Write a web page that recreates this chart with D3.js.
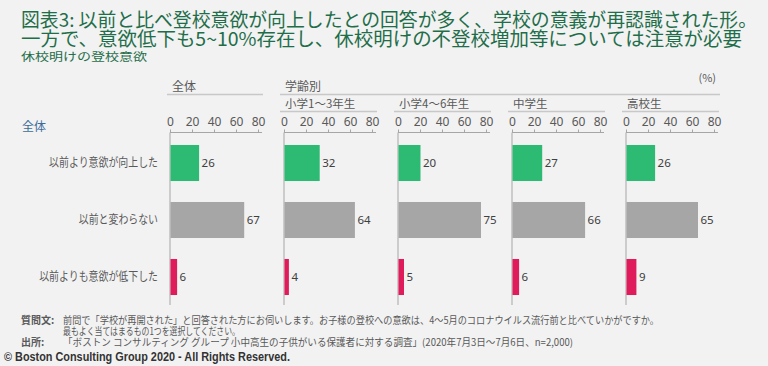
<!DOCTYPE html>
<html>
<head>
<meta charset="utf-8">
<script src="https://cdn.jsdelivr.net/npm/d3@7"></script>
<style>
  body { margin: 0; background: #f2f2f2; }
  svg { display: block; font-family: "Noto Sans CJK JP", "Noto Sans", sans-serif; }
</style>
</head>
<body>
<svg id="chart" width="768" height="366"></svg>
<script>
// data
const panels = ["全体", "小学1～3年生", "小学4～6年生", "中学生", "高校生"];
const categories = ["以前より意欲が向上した", "以前と変わらない", "以前よりも意欲が低下した"];
const upValues = [26, 32, 20, 27, 26];
const sameValues = [67, 64, 75, 66, 65];
const downValues = [6, 4, 5, 6, 9];
const ticks = [0, 20, 40, 60, 80];
const colors = ["#2dba73", "#a6a6a6", "#e01b5b"];

const svg = d3.select("#chart");
svg.append("rect").attr("width", 768).attr("height", 366).attr("fill", "#f2f2f2");

// title
const title = svg.append("g").attr("fill", "#1f6e4a");
title.append("text").attr("x", 21).attr("y", 27).attr("font-size", 19)
  .attr("textLength", 736).attr("lengthAdjust", "spacingAndGlyphs")
  .text("図表3: 以前と比べ登校意欲が向上したとの回答が多く、学校の意義が再認識された形。");
title.append("text").attr("x", 21).attr("y", 45.5).attr("font-size", 19)
  .attr("textLength", 721).attr("lengthAdjust", "spacingAndGlyphs")
  .text("一方で、意欲低下も5~10%存在し、休校明けの不登校増加等については注意が必要");
title.append("text").attr("x", 21).attr("y", 60.5).attr("font-size", 11.5)
  .attr("textLength", 126).attr("lengthAdjust", "spacingAndGlyphs")
  .text("休校明けの登校意欲");

const px = d3.scaleBand().domain(panels).range([170, 740]);
const x = d3.scaleLinear().domain([0, 80]).range([0, 88]);
const y = d3.scaleBand().domain(categories).range([134.5, 305.5]).paddingInner(0.368).paddingOuter(0.184);
const axisY = 132.5;
const series = [upValues, sameValues, downValues];

// headers
const hdr = svg.append("g").attr("font-size", 12).attr("fill", "#595959");
hdr.append("text").attr("x", 172).attr("y", 91).text("全体");
hdr.append("line").attr("x1", 167).attr("x2", 263).attr("y1", 94.5).attr("y2", 94.5)
  .attr("stroke", "#c8c8c8").attr("stroke-width", 1.5);
hdr.append("text").attr("x", 285).attr("y", 91).text("学齢別");
hdr.append("line").attr("x1", 280).attr("x2", 720).attr("y1", 94.5).attr("y2", 94.5)
  .attr("stroke", "#c8c8c8").attr("stroke-width", 1.5);
hdr.append("text").attr("x", 716).attr("y", 82).attr("text-anchor", "end").attr("font-size", 11).text("(%)");
hdr.append("text").attr("x", 22).attr("y", 131).attr("fill", "#3d6c99").text("全体");

panels.forEach((p, i) => {
  const g = svg.append("g").attr("transform", `translate(${px(p)},0)`);
  if (i > 0) {
    g.append("text").attr("x", 1).attr("y", 108).attr("font-size", 11.5).attr("fill", "#595959").text(p);
    g.append("line").attr("x1", -4).attr("x2", 93).attr("y1", 111.5).attr("y2", 111.5)
      .attr("stroke", "#c8c8c8").attr("stroke-width", 1.5);
  }
  const ax = g.append("g").attr("transform", `translate(0,${axisY})`)
    .call(d3.axisTop(x).tickValues(ticks).tickSize(3).tickPadding(4));
  ax.select(".domain").remove();
  ax.selectAll(".tick line").attr("stroke", "#a6a6a6");
  ax.selectAll(".tick text").attr("fill", "#595959").attr("font-size", 12)
    .attr("font-family", "'Noto Sans', sans-serif");
  ax.append("line").attr("x1", 0).attr("x2", 92).attr("stroke", "#a6a6a6");

  g.append("line").attr("x1", 0).attr("x2", 0).attr("y1", axisY).attr("y2", 305)
    .attr("stroke", "#a6a6a6");

  categories.forEach((c, k) => {
    const v = series[k][i];
    g.append("rect").attr("x", 0.5).attr("y", y(c)).attr("width", x(v)).attr("height", y.bandwidth())
      .attr("fill", colors[k]);
    g.append("text").attr("x", x(v) + 3).attr("y", y(c) + y.bandwidth() / 2 + 4)
      .attr("font-size", 11.5).attr("fill", "#404040").attr("font-family", "'Noto Sans', sans-serif")
      .text(v);
  });
});

// category labels
svg.append("g").selectAll("text").data(categories).join("text")
  .attr("x", 158).attr("y", d => y(d) + y.bandwidth() / 2 + 4)
  .attr("text-anchor", "end").attr("font-size", 12).attr("fill", "#595959")
  .attr("textLength", d => d.length * 9.9).attr("lengthAdjust", "spacingAndGlyphs")
  .text(d => d);

// footer
const ft = svg.append("g").attr("font-size", 10).attr("fill", "#595959");
ft.append("text").attr("x", 21).attr("y", 324).attr("font-weight", "bold").text("質問文:");
ft.append("text").attr("x", 63).attr("y", 324).attr("textLength", 596).attr("lengthAdjust", "spacingAndGlyphs")
  .text("前問で「学校が再開された」と回答された方にお伺いします。お子様の登校への意欲は、4～5月のコロナウイルス流行前と比べていかがですか。");
ft.append("text").attr("x", 63).attr("y", 335).attr("textLength", 177).attr("lengthAdjust", "spacingAndGlyphs")
  .text("最もよく当てはまるもの1つを選択してください。");
ft.append("text").attr("x", 21).attr("y", 346).attr("font-weight", "bold").text("出所:");
ft.append("text").attr("x", 63).attr("y", 346).attr("textLength", 510).attr("lengthAdjust", "spacingAndGlyphs")
  .text("「ボストン コンサルティング グループ 小中高生の子供がいる保護者に対する調査」(2020年7月3日～7月6日、n=2,000)");
svg.append("text").attr("x", 4).attr("y", 361).attr("font-size", 12).attr("font-weight", "bold")
  .attr("fill", "#333").attr("font-family", "'Liberation Sans Narrow', 'Liberation Sans', sans-serif")
  .attr("textLength", 286).attr("lengthAdjust", "spacingAndGlyphs")
  .text("© Boston Consulting Group 2020 - All Rights Reserved.");
</script>
</body>
</html>
